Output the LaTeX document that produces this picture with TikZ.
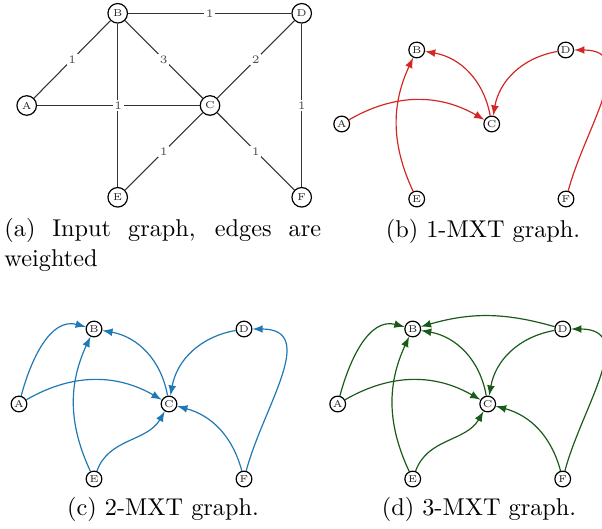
\documentclass[tikz,border=0pt]{standalone}
\usepackage{amsmath}
\usepackage{tikz}
\usetikzlibrary{arrows}
\definecolor{mxtred}{RGB}{210,40,35}
\definecolor{mxtblue}{RGB}{30,120,180}
\definecolor{mxtgreen}{RGB}{25,90,25}
\tikzset{
  vtx/.style={circle,draw=black,fill=white,text=black!85,inner sep=0pt,
    line width=0.5pt,font=\fontsize{4.2}{5}\selectfont},
  bigvtx/.style={vtx,minimum size=8.2pt},
  smallvtx/.style={vtx,minimum size=6.6pt},
  wt/.style={fill=white,inner sep=0.7pt,text=black!70,
    font=\fontsize{4.8}{5}\selectfont},
  subcap/.style={inner sep=0pt,font=\fontsize{10.2}{12.4}\selectfont}
}
\begin{document}
\begin{tikzpicture}[x=0.42pt,y=0.42pt,>=latex]
    \useasboundingbox (0,0) rectangle (602,528);
    % (a) input graph
    \node[bigvtx] (A0) at (26.7,422.5) {A};
    \node[bigvtx] (B0) at (117.7,514.7) {B};
    \node[bigvtx] (C0) at (210,422.5) {C};
    \node[bigvtx] (D0) at (301.7,514.7) {D};
    \node[bigvtx] (E0) at (117.7,330.7) {E};
    \node[bigvtx] (F0) at (301.7,330.7) {F};
    \path[draw=black!80,line width=0.45pt]
      (A0) edge node[wt]{1} (B0)
      (B0) edge node[wt]{1} (D0)
      (B0) edge node[wt]{3} (C0)
      (D0) edge node[wt]{2} (C0)
      (B0) edge node[wt]{1} (E0)
      (A0) edge node[wt]{1} (C0)
      (D0) edge node[wt]{1} (F0)
      (C0) edge node[wt]{1} (E0)
      (C0) edge node[wt]{1} (F0);
    \node[subcap,anchor=north west,text width=133pt,align=justify] (capa)
      at (4,310) {(a) Input graph, edges are weighted};

    % (b) 1-MXT
    \node[smallvtx] (A1) at (341.7,404) {A};
    \node[smallvtx] (B1) at (416.7,478) {B};
    \node[smallvtx] (C1) at (491.7,404) {C};
    \node[smallvtx] (D1) at (565.7,478) {D};
    \node[smallvtx] (E1) at (416.7,329) {E};
    \node[smallvtx] (F1) at (566,329) {F};
    \path[->,color=mxtred,line width=0.5pt]
      (A1) edge[bend left=30] (C1)
      (E1) edge[bend left=25] (B1)
      (C1) edge[bend right=35] (B1)
      (D1) edge[bend right=35] (C1)
      (F1) edge[out=75,in=0,looseness=1.2] (D1);
    \node[subcap,anchor=base] (capb) at (483,291) {(b) 1-MXT graph.};

    % (c) 2-MXT
    \node[smallvtx] (A2) at (19,124) {A};
    \node[smallvtx] (B2) at (94,199) {B};
    \node[smallvtx] (C2) at (169,124) {C};
    \node[smallvtx] (D2) at (244,199) {D};
    \node[smallvtx] (E2) at (94,49) {E};
    \node[smallvtx] (F2) at (244,49) {F};
    \path[->,color=mxtblue,line width=0.5pt]
      (A2) edge[out=75,in=165] (B2)
      (A2) edge[bend left=30] (C2)
      (E2) edge[bend left=25] (B2)
      (C2) edge[bend right=35] (B2)
      (D2) edge[bend right=35] (C2)
      (E2) edge[out=70,in=-120] (C2)
      (F2) edge[bend right=30] (C2)
      (F2) edge[out=75,in=0,looseness=1.2] (D2);
    \node[subcap,anchor=base] (capc) at (163,13) {(c) 2-MXT graph.};

    % (d) 3-MXT
    \node[smallvtx] (A3) at (337.7,124) {A};
    \node[smallvtx] (B3) at (412.7,199) {B};
    \node[smallvtx] (C3) at (487.7,124) {C};
    \node[smallvtx] (D3) at (562.7,199) {D};
    \node[smallvtx] (E3) at (412.7,49) {E};
    \node[smallvtx] (F3) at (562.7,49) {F};
    \path[->,color=mxtgreen,line width=0.5pt]
      (A3) edge[out=75,in=165] (B3)
      (A3) edge[bend left=30] (C3)
      (E3) edge[bend left=25] (B3)
      (C3) edge[bend right=35] (B3)
      (D3) edge[bend right=16] (B3)
      (D3) edge[bend right=35] (C3)
      (E3) edge[out=70,in=-120] (C3)
      (F3) edge[bend right=30] (C3)
      (F3) edge[out=75,in=0,looseness=1.2] (D3);
    \node[subcap,anchor=base] (capd) at (479,13) {(d) 3-MXT graph.};
\end{tikzpicture}
\end{document}
